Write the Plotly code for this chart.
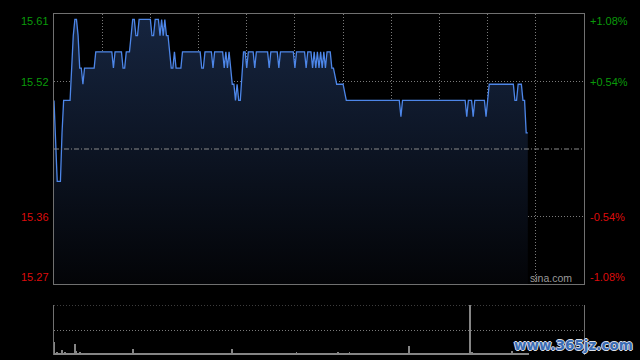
import plotly.graph_objects as go

# ---------------- data ----------------
prev_close = 15.44
pct_range = 1.08  # axis spans +/- this percent around prev close

# price per minute, run-length encoded (level, number of minutes)
price_levels = [15.50, 15.44, 15.40, 15.46, 15.50, 15.54, 15.58, 15.60, 15.58, 15.54,
                15.52, 15.54, 15.56, 15.54, 15.56, 15.54, 15.56, 15.58, 15.60, 15.58,
                15.60, 15.58, 15.60, 15.58, 15.60, 15.58, 15.60, 15.58, 15.56, 15.54,
                15.56, 15.54, 15.56, 15.54, 15.56, 15.54, 15.56, 15.54, 15.56, 15.54,
                15.56, 15.54, 15.52, 15.50, 15.52, 15.50, 15.53, 15.56, 15.54, 15.56,
                15.54, 15.56, 15.54, 15.56, 15.54, 15.56, 15.54, 15.56, 15.54, 15.56,
                15.54, 15.56, 15.54, 15.56, 15.54, 15.56, 15.54, 15.56, 15.54, 15.56,
                15.54, 15.53, 15.52, 15.51, 15.50, 15.48, 15.50, 15.48, 15.50, 15.48,
                15.50, 15.48, 15.50, 15.52, 15.50, 15.52, 15.50, 15.46]
price_runs = [1, 1, 3, 1, 5, 1, 1, 2, 1, 2,
              1, 7, 11, 1, 5, 2, 3, 1, 2, 2,
              8, 2, 3, 1, 1, 1, 1, 2, 1, 2,
              1, 4, 12, 2, 5, 1, 6, 1, 1, 1,
              1, 1, 2, 1, 1, 2, 1, 2, 1, 4,
              1, 8, 1, 5, 1, 9, 1, 6, 1, 3,
              1, 1, 1, 1, 1, 1, 1, 1, 1, 3,
              2, 1, 5, 1, 34, 1, 40, 1, 3, 1,
              7, 1, 1, 16, 2, 3, 2, 2]

# volume per minute (arbitrary units; 100 = top of the volume panel)
volumes = [26, 4, 6, 3, 3, 10, 4, 6, 3, 2, 3, 4, 3, 22, 8, 4, 5, 3, 2, 3,
           3, 2, 3, 2, 4, 2, 3, 2, 2, 3, 2, 4, 2, 3, 2, 2, 3, 2, 3, 2,
           2, 3, 2, 2, 3, 2, 4, 2, 3, 12, 3, 2, 2, 3, 2, 2, 3, 2, 2, 3,
           2, 2, 3, 2, 3, 2, 2, 3, 2, 2, 3, 2, 2, 2, 3, 2, 2, 3, 2, 2,
           3, 2, 2, 3, 2, 2, 2, 3, 2, 2, 3, 2, 2, 2, 3, 2, 2, 2, 3, 2,
           2, 3, 2, 2, 2, 3, 2, 2, 3, 2, 3, 12, 4, 3, 2, 3, 2, 2, 3, 2,
           2, 2, 3, 2, 2, 3, 2, 2, 2, 3, 2, 2, 3, 2, 2, 2, 3, 2, 2, 3,
           2, 2, 2, 3, 2, 2, 3, 2, 2, 2, 3, 6, 2, 2, 3, 2, 2, 2, 3, 2,
           2, 3, 2, 2, 2, 3, 2, 2, 3, 2, 2, 2, 3, 2, 2, 3, 4, 6, 2, 2,
           3, 2, 2, 2, 5, 2, 2, 3, 2, 2, 2, 3, 2, 2, 2, 3, 2, 2, 2, 3,
           2, 2, 3, 4, 2, 2, 3, 2, 2, 2, 3, 2, 2, 2, 3, 2, 2, 3, 2, 2,
           2, 18, 3, 2, 2, 3, 2, 2, 2, 3, 2, 2, 3, 2, 2, 2, 3, 2, 2, 3,
           2, 2, 2, 3, 2, 2, 3, 2, 2, 2, 3, 2, 2, 3, 2, 2, 2, 3, 2, 150,
           5, 2, 3, 2, 2, 2, 3, 2, 2, 3, 2, 2, 2, 3, 2, 2, 3, 2, 2, 2,
           3, 2, 2, 3, 2, 7, 2, 2, 3, 2, 2, 2, 3, 2, 2, 3]

left_labels = ["15.61", "15.52", "15.36", "15.27"]
right_labels = ["+1.08%", "+0.54%", "-0.54%", "-1.08%"]
label_pcts = [1.08, 0.54, -0.54, -1.08]
session_minutes = 330
grid_step_minutes = 30
vol_axis_max = 100

# ---------------- build series ----------------
prices = []
for lvl, n in zip(price_levels, price_runs):
    prices.extend([lvl] * n)
minutes = list(range(len(prices)))
vol_minutes = list(range(len(volumes)))

ymin = prev_close * (1 - pct_range / 100)
ymax = prev_close * (1 + pct_range / 100)
grid_levels = [prev_close * (1 + p / 100) for p in (0.54, -0.54)]

fig = go.Figure()
fig.add_trace(go.Scatter(
    x=minutes, y=prices, mode="lines",
    line=dict(color="#4d86e8", width=1.3),
    fill="tozeroy",
    fillgradient=dict(type="vertical",
                      colorscale=[[0, "rgb(3,4,7)"], [1, "rgb(22,37,64)"]],
                      start=ymin, stop=ymax),
    hoverinfo="skip", showlegend=False, xaxis="x", yaxis="y"))

fig.add_trace(go.Bar(
    x=vol_minutes, y=volumes, width=0.55,
    marker=dict(color="#858585", line=dict(width=0)),
    hoverinfo="skip", showlegend=False, xaxis="x2", yaxis="y2"))

grid_col = "#7a7a7a"
border_col = "#707070"
fig.update_layout(
    width=640, height=360,
    margin=dict(l=54, r=56, t=14, b=5),
    paper_bgcolor="#000000", plot_bgcolor="#000000",
    bargap=0,
    xaxis=dict(domain=[0, 1], anchor="y", range=[0, session_minutes],
               showgrid=True, gridcolor=grid_col, griddash="1px,2px", gridwidth=1,
               tick0=0, dtick=grid_step_minutes, showticklabels=False, ticks="",
               zeroline=False, showline=True, mirror=True, linecolor=border_col,
               linewidth=1, fixedrange=True),
    yaxis=dict(domain=[0.2082, 1], anchor="x", range=[ymin, ymax],
               tickvals=grid_levels, showticklabels=False, ticks="",
               showgrid=True, gridcolor=grid_col, griddash="1px,2px", gridwidth=1,
               zeroline=False, showline=True, mirror=True, linecolor=border_col,
               linewidth=1, fixedrange=True),
    xaxis2=dict(domain=[0, 1], anchor="y2", range=[0, session_minutes],
                showgrid=False, showticklabels=False, ticks="", zeroline=False,
                showline=False, fixedrange=True),
    yaxis2=dict(domain=[0, 0.1466], anchor="x2", range=[0, vol_axis_max],
                tickvals=[vol_axis_max / 2], showticklabels=False, ticks="",
                showgrid=True, gridcolor=grid_col, griddash="1px,2px", gridwidth=1,
                zeroline=False, showline=True, mirror=True, linecolor=border_col,
                linewidth=1, fixedrange=True),
)

# previous-close dash-dot line
fig.add_shape(type="line", xref="x", yref="y", x0=0, x1=session_minutes,
              y0=prev_close, y1=prev_close,
              line=dict(color="#8a8a8a", width=1, dash="5px,2px,1px,2px"))
# dotted top edge of the volume panel
fig.add_shape(type="line", xref="x2", yref="y2", x0=0, x1=session_minutes,
              y0=vol_axis_max, y1=vol_axis_max,
              line=dict(color=grid_col, width=1, dash="1px,2px"))

font_fam = "Liberation Sans, Arial, sans-serif"


def label_anchor(pct):
    if pct == max(label_pcts):
        return "top", 1
    if pct == min(label_pcts):
        return "bottom", -1
    return "middle", 0


for txt, pct in zip(left_labels, label_pcts):
    yv = prev_close * (1 + pct / 100)
    anchor, ys = label_anchor(pct)
    col = "#0a9a0a" if pct > 0 else "#dd0c0c"
    fig.add_annotation(xref="paper", yref="y", x=0, y=yv, text=txt, showarrow=False,
                       xanchor="right", yanchor=anchor, xshift=-3, yshift=ys,
                       font=dict(family=font_fam, size=11, color=col))
for txt, pct in zip(right_labels, label_pcts):
    yv = prev_close * (1 + pct / 100)
    anchor, ys = label_anchor(pct)
    col = "#0a9a0a" if pct > 0 else "#dd0c0c"
    fig.add_annotation(xref="paper", yref="y", x=1, y=yv, text=txt, showarrow=False,
                       xanchor="left", yanchor=anchor, xshift=4, yshift=ys,
                       font=dict(family=font_fam, size=11, color=col))

fig.add_annotation(xref="x", yref="y", x=session_minutes, y=ymin, text="sina.com",
                   showarrow=False, xanchor="right", yanchor="bottom", xshift=-10, yshift=-2,
                   font=dict(family=font_fam, size=10.5, color="#9a9a9a"))

fig.add_annotation(xref="paper", yref="paper", x=1.096, y=0.03, text="www.365jz.com",
                   showarrow=False, xanchor="right", yanchor="middle",
                   font=dict(family="DejaVu Sans", size=13.5, color="#3a6cb5", weight="bold",
                             shadow="1px 0 0 #d8dde6, -1px 0 0 #d8dde6, 0 1px 0 #d8dde6, 0 -1px 0 #d8dde6"))

fig.write_html("out.html", config={"displayModeBar": False},
               post_script="document.body.style.margin='0px';document.body.style.background='#000';")
